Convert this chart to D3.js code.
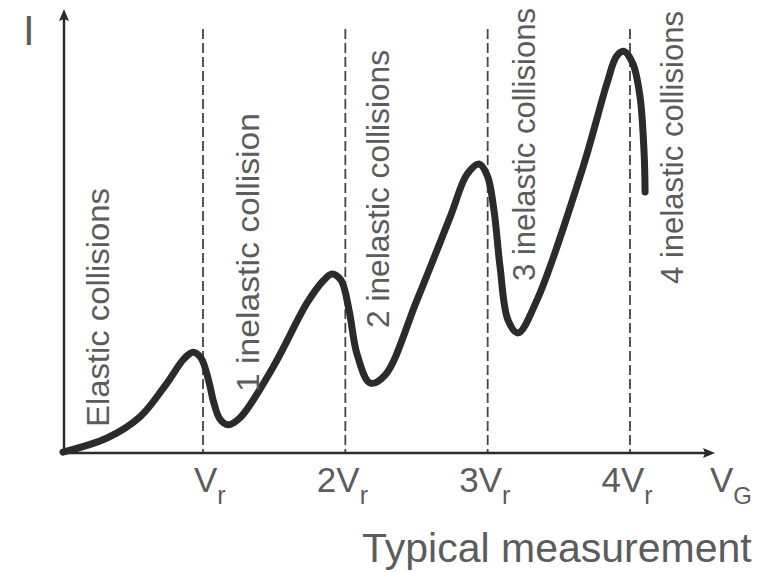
<!DOCTYPE html>
<html>
<head>
<meta charset="utf-8">
<script src="https://cdn.jsdelivr.net/npm/d3@7"></script>
<style>
  html, body { margin: 0; padding: 0; background: #fff; }
  svg { display: block; font-family: "Liberation Sans", Arial, sans-serif; }
</style>
</head>
<body>
<svg id="chart" width="776" height="572"></svg>
<script>
// ---- data ----
const voltage = [0.016, 0.326, 0.557, 0.747, 0.866, 0.930, 0.986, 1.040, 1.076, 1.119, 1.176, 1.260, 1.492, 1.731, 1.843, 1.906, 1.969, 2.026, 2.082, 2.174, 2.279, 2.504, 2.736, 2.856, 2.940, 2.998, 3.045, 3.087, 3.143, 3.213, 3.347, 3.670, 3.839, 3.906, 3.955, 4.019, 4.070, 4.099, 4.106];
const current = [0.2, 3.4, 8.2, 15.9, 21.4, 22.9, 21.6, 16.4, 11.4, 7.7, 6.4, 8.0, 19.5, 34.1, 39.1, 40.7, 39.3, 32.5, 22.5, 15.9, 17.7, 34.8, 53.6, 63.4, 65.7, 63.0, 55.0, 42.3, 30.2, 27.3, 34.8, 65.0, 84.1, 90.2, 91.3, 88.6, 81.1, 68.2, 59.3];
const tickValues = [1, 2, 3, 4];
const tickPrefixes = ["", "2", "3", "4"];
const tickSub = "r";
const regionLabels = ["Elastic collisions", "1 inelastic collision", "2 inelastic collisions", "3 inelastic collisions", "4 inelastic collisions"];
const xAxisLabel = "V";
const xAxisSub = "G";
const yAxisLabel = "I";
const caption = "Typical measurement";

// ---- layout ----
const labelV = [0.34, 1.39, 2.31, 3.33, 4.37];
const labelBottom = [427, 392, 328, 281, 284];
const labelLength = [239, 279, 278, 273, 273];

const svg = d3.select("#chart");
const x = d3.scaleLinear().domain([0, 4]).range([60.67, 630]);
const y = d3.scaleLinear().domain([0, 100]).range([453, 13]);
const axisX0 = 64, axisY0 = 453;
const dark = "#2b2b2b";
const textCol = "#5c5c5c";

// dashed reference lines
svg.append("g").selectAll("line").data(tickValues).join("line")
  .attr("x1", d => x(d)).attr("x2", d => x(d))
  .attr("y1", 29).attr("y2", axisY0)
  .attr("stroke", "#444").attr("stroke-width", 1.8)
  .attr("stroke-dasharray", "10,4");

// axes
svg.append("line").attr("x1", axisX0).attr("x2", 708).attr("y1", axisY0).attr("y2", axisY0)
  .attr("stroke", dark).attr("stroke-width", 2.5);
svg.append("path").attr("d", `M715,${axisY0} L703,${axisY0-5} L705,${axisY0} L703,${axisY0+5} Z`).attr("fill", dark);
svg.append("line").attr("x1", axisX0).attr("x2", axisX0).attr("y1", axisY0).attr("y2", 18)
  .attr("stroke", dark).attr("stroke-width", 2.5);
svg.append("path").attr("d", `M${axisX0},9 L${axisX0-5},21 L${axisX0},19 L${axisX0+5},21 Z`).attr("fill", dark);

// curve
const pts = voltage.map((v, i) => [v, current[i]]);
const line = d3.line().x(d => x(d[0])).y(d => y(d[1])).curve(d3.curveCatmullRom.alpha(0.5));
svg.append("path").datum(pts).attr("d", line)
  .attr("fill", "none").attr("stroke", dark).attr("stroke-width", 7)
  .attr("stroke-linecap", "round").attr("stroke-linejoin", "round");

// region labels (rotated)
svg.append("g").selectAll("text").data(regionLabels).join("text")
  .attr("transform", (d, i) => `translate(${x(labelV[i])},${labelBottom[i]}) rotate(-90)`)
  .attr("font-size", 32).attr("fill", textCol)
  .attr("textLength", (d, i) => labelLength[i]).attr("lengthAdjust", "spacingAndGlyphs")
  .text(d => d);

// tick labels
const tickG = svg.append("g");
tickValues.forEach((v, i) => {
  const xv = x(v) - 9;
  if (tickPrefixes[i]) {
    tickG.append("text").attr("x", xv).attr("y", 492).attr("text-anchor", "end")
      .attr("font-size", 35).attr("fill", textCol).text(tickPrefixes[i]);
  }
  const t = tickG.append("text").attr("x", xv).attr("y", 492)
    .attr("font-size", 35).attr("fill", textCol);
  t.append("tspan").text("V");
  t.append("tspan").attr("font-size", 25).attr("dy", 12).text(tickSub);
});

// x axis label
const xl = svg.append("text").attr("x", 710).attr("y", 492).attr("font-size", 35).attr("fill", textCol);
xl.append("tspan").text(xAxisLabel);
xl.append("tspan").attr("font-size", 24).attr("dy", 12).text(xAxisSub);

// y axis label
svg.append("text").attr("x", 23).attr("y", 45).attr("font-size", 42).attr("fill", textCol).text(yAxisLabel);

// caption
svg.append("text").attr("x", 362).attr("y", 562).attr("font-size", 41).attr("fill", textCol).text(caption);
</script>
</body>
</html>
